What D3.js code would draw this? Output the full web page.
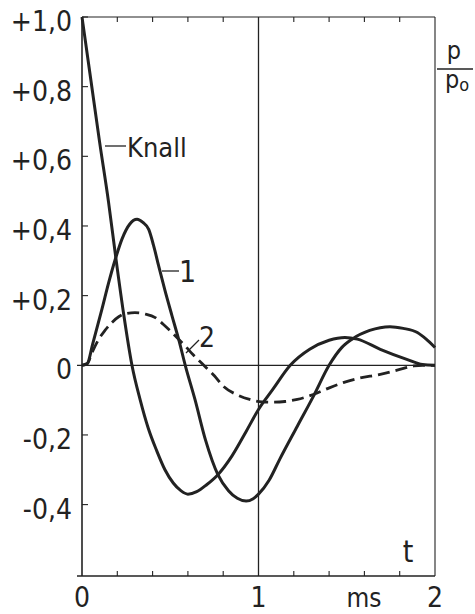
<!DOCTYPE html>
<html>
<head>
<meta charset="utf-8">
<script src="https://cdn.jsdelivr.net/npm/d3@7"></script>
<style>
  body { margin: 0; background: #fff; }
  text { font-family: "Liberation Sans Narrow", "DejaVu Sans Condensed", "Liberation Sans", sans-serif; fill: #222; }
</style>
</head>
<body>
<svg id="chart" width="475" height="614"></svg>
<script>
// Pressure curves p/p0 over time t (ms)
var knall = [[0, 1.0], [0.05, 0.82], [0.10, 0.64], [0.15, 0.47], [0.19, 0.315], [0.236, 0.147],
    [0.283, 0], [0.33, -0.10], [0.375, -0.18], [0.423, -0.245], [0.47, -0.30], [0.517, -0.338],
    [0.56, -0.36], [0.60, -0.37], [0.65, -0.363], [0.706, -0.343], [0.77, -0.314], [0.85, -0.26],
    [0.93, -0.19], [1.0, -0.127], [1.08, -0.07], [1.18, 0], [1.29, 0.046], [1.40, 0.072],
    [1.49, 0.08], [1.56, 0.075], [1.69, 0.046], [1.84, 0.017], [1.93, 0.002], [2.0, 0]];

var curve1 = [[0, 0], [0.03, 0.005], [0.06, 0.06], [0.113, 0.161], [0.15, 0.235], [0.189, 0.305],
    [0.227, 0.363], [0.27, 0.405], [0.312, 0.419], [0.345, 0.41], [0.378, 0.39], [0.405, 0.345],
    [0.434, 0.286], [0.47, 0.215], [0.51, 0.142], [0.55, 0.07], [0.585, 0], [0.64, -0.098],
    [0.70, -0.215], [0.77, -0.314], [0.83, -0.36], [0.88, -0.382], [0.93, -0.39], [0.97, -0.383],
    [1.0, -0.37], [1.06, -0.33], [1.12, -0.27], [1.22, -0.175], [1.31, -0.09], [1.40, 0],
    [1.47, 0.05], [1.53, 0.075], [1.63, 0.10], [1.745, 0.111], [1.82, 0.106], [1.90, 0.094],
    [1.95, 0.075], [2.0, 0.051]];

var curve2 = [[0, 0], [0.03, 0.005], [0.06, 0.04], [0.094, 0.074], [0.13, 0.10], [0.17, 0.123],
    [0.21, 0.14], [0.245, 0.148], [0.30, 0.151], [0.36, 0.147], [0.415, 0.137], [0.46, 0.118],
    [0.51, 0.094], [0.585, 0.055], [0.63, 0.03], [0.69, 0], [0.75, -0.03], [0.80, -0.06],
    [0.88, -0.085], [0.95, -0.098], [1.02, -0.105], [1.08, -0.106], [1.15, -0.104], [1.22, -0.098],
    [1.31, -0.084], [1.405, -0.064], [1.48, -0.05], [1.56, -0.038], [1.69, -0.026], [1.80, -0.012],
    [1.88, -0.002], [1.93, 0], [2.0, 0]];

var yTicks = [1.0, 0.8, 0.6, 0.4, 0.2, 0, -0.2, -0.4];
var yTickLabels = ["+1,0", "+0,8", "+0,6", "+0,4", "+0,2", "0", "-0,2", "-0,4"];
var xMinorTicks = [0.2, 0.4, 0.6, 0.8, 1.2, 1.4, 1.6, 1.8];
var xTickLabels = [[0, "0"], [1, "1"], [2, "2"]];

var svg = d3.select('#chart');
var ink = '#222';

var x = d3.scaleLinear().domain([0, 2]).range([82, 435]);
var y = d3.scaleLinear().domain([-0.605, 1.0]).range([576, 17]);

// Frame: left axis, top, right and bottom lines
var frame = svg.append('g').attr('stroke', ink).attr('fill', 'none');
frame.append('line').attr('x1', x(0)).attr('x2', x(0)).attr('y1', y(1.0)).attr('y2', y(-0.605)).attr('stroke-width', 1.6);
frame.append('line').attr('x1', x(0)).attr('x2', x(2)).attr('y1', y(1.0)).attr('y2', y(1.0)).attr('stroke-width', 1.1);
frame.append('line').attr('x1', x(2)).attr('x2', x(2)).attr('y1', y(1.0)).attr('y2', y(-0.605)).attr('stroke-width', 1.1);
frame.append('line').attr('x1', x(0) - 5).attr('x2', x(2)).attr('y1', y(-0.605)).attr('y2', y(-0.605)).attr('stroke-width', 1.3);
// zero line and t = 1 ms line
frame.append('line').attr('x1', x(0) - 5).attr('x2', x(2)).attr('y1', y(0)).attr('y2', y(0)).attr('stroke-width', 1.2);
frame.append('line').attr('x1', x(1)).attr('x2', x(1)).attr('y1', y(1.0)).attr('y2', y(-0.605)).attr('stroke-width', 1.3);

// minor ticks, top pointing down and bottom pointing up
frame.selectAll('.ttop').data(xMinorTicks).enter().append('line')
    .attr('x1', function(d) { return x(d); }).attr('x2', function(d) { return x(d); })
    .attr('y1', y(1.0)).attr('y2', y(1.0) + 5).attr('stroke-width', 1.1);
frame.selectAll('.tbot').data(xMinorTicks).enter().append('line')
    .attr('x1', function(d) { return x(d); }).attr('x2', function(d) { return x(d); })
    .attr('y1', y(-0.605)).attr('y2', y(-0.605) - 5).attr('stroke-width', 1.1);
// y ticks pointing right
frame.selectAll('.ty').data(yTicks).enter().append('line')
    .attr('x1', x(0)).attr('x2', x(0) + 6)
    .attr('y1', function(d) { return y(d); }).attr('y2', function(d) { return y(d); })
    .attr('stroke-width', 1.1);

// y labels
svg.selectAll('.ylab').data(yTicks).enter().append('text')
    .attr('x', 72)
    .attr('y', function(d) { return y(d) + 14; })
    .attr('text-anchor', 'end')
    .attr('font-size', 28)
    .text(function(d, i) { return yTickLabels[i]; });

// x labels
svg.selectAll('.xlab').data(xTickLabels).enter().append('text')
    .attr('x', function(d) { return x(d[0]); })
    .attr('y', 607)
    .attr('text-anchor', 'middle')
    .attr('font-size', 28)
    .text(function(d) { return d[1]; });
svg.append('text').attr('x', 364).attr('y', 607).attr('text-anchor', 'middle')
    .attr('font-size', 26).text('ms');
svg.append('text').attr('x', 408).attr('y', 562).attr('text-anchor', 'middle')
    .attr('font-size', 30).text('t');

// p / p0 unit
svg.append('text').attr('x', 454).attr('y', 59).attr('text-anchor', 'middle')
    .attr('font-size', 25).text('p');
svg.append('line').attr('x1', 437).attr('x2', 473).attr('y1', 69).attr('y2', 69)
    .attr('stroke', ink).attr('stroke-width', 1.6);
var p0 = svg.append('text').attr('x', 445).attr('y', 88).attr('font-size', 25);
p0.append('tspan').text('p');
p0.append('tspan').attr('font-size', 18).attr('dy', 3).text('o');

// curves
var line = d3.line()
    .x(function(d) { return x(d[0]); })
    .y(function(d) { return y(d[1]); })
    .curve(d3.curveMonotoneX);

svg.append('path').datum(knall).attr('d', line)
    .attr('fill', 'none').attr('stroke', ink).attr('stroke-width', 3);
svg.append('path').datum(curve1).attr('d', line)
    .attr('fill', 'none').attr('stroke', ink).attr('stroke-width', 3);
svg.append('path').datum(curve2).attr('d', line)
    .attr('fill', 'none').attr('stroke', ink).attr('stroke-width', 2.8)
    .attr('stroke-dasharray', '12,6');

// curve labels with leader lines
var leaders = svg.append('g').attr('stroke', ink).attr('stroke-width', 1.3);
leaders.append('line').attr('x1', 105).attr('x2', 126).attr('y1', 146).attr('y2', 146);
leaders.append('line').attr('x1', 162).attr('x2', 179).attr('y1', 271).attr('y2', 271);
leaders.append('line').attr('x1', 186).attr('x2', 199).attr('y1', 353).attr('y2', 340);

svg.append('text').attr('x', 127).attr('y', 157).attr('font-size', 27).text('Knall');
svg.append('text').attr('x', 179).attr('y', 282).attr('font-size', 30).text('1');
svg.append('text').attr('x', 199).attr('y', 347).attr('font-size', 28).text('2');
</script>
</body>
</html>
